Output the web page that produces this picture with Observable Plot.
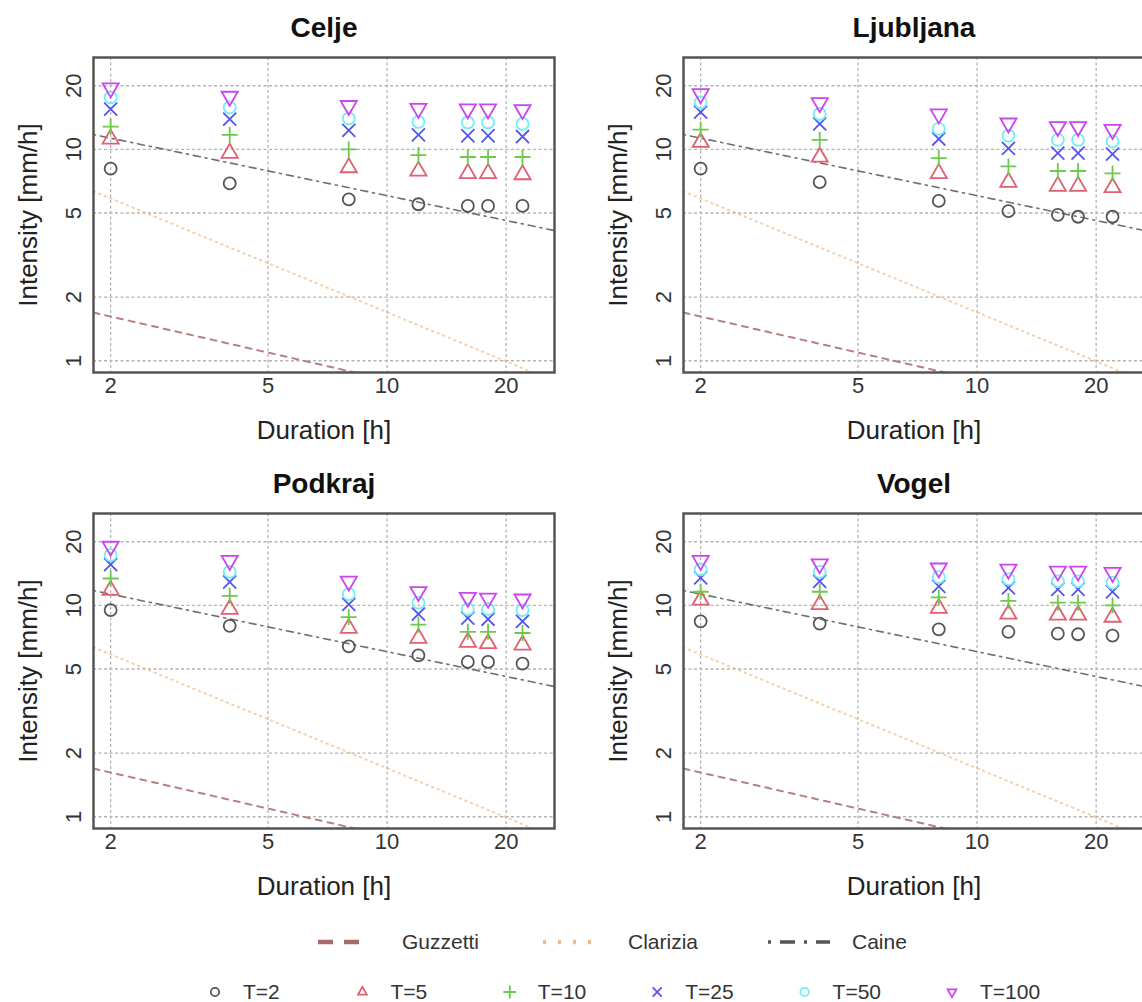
<!DOCTYPE html>
<html><head><meta charset="utf-8">
<script src="https://cdn.jsdelivr.net/npm/d3@7"></script>
<script src="https://cdn.jsdelivr.net/npm/@observablehq/plot@0.6"></script>
<style>
body{margin:0;background:#fff;font-family:"Liberation Sans",Arial,sans-serif;}
#fig{position:relative;width:1142px;height:1002px;overflow:hidden;background:#fff;}
.panel{position:absolute;}
#legend{position:absolute;left:0;top:912px;}
</style></head><body><div id="fig"></div>
<script>
// ---- data ----
const durations = [2, 4, 8, 12, 16, 18, 22];            // hours
const periods = ["T=2", "T=5", "T=10", "T=25", "T=50", "T=100"];
const sites = ["Celje", "Ljubljana", "Podkraj", "Vogel"];
// intensities [mm/h], one row per return period (T=2 ... T=100), one column per duration
const celje = [
  [8.1, 6.9, 5.8, 5.5, 5.4, 5.4, 5.4],
  [11.2, 9.6, 8.2, 7.9, 7.7, 7.7, 7.6],
  [12.8, 11.7, 10.0, 9.4, 9.2, 9.2, 9.2],
  [15.5, 13.9, 12.3, 11.7, 11.6, 11.6, 11.5],
  [17.6, 15.8, 14.0, 13.5, 13.4, 13.4, 13.2],
  [19.5, 17.8, 16.1, 15.6, 15.5, 15.5, 15.4]
];
const ljubljana = [
  [8.1, 7.0, 5.7, 5.1, 4.9, 4.8, 4.8],
  [10.8, 9.2, 7.7, 7.0, 6.7, 6.7, 6.6],
  [12.4, 11.1, 9.1, 8.3, 7.9, 7.9, 7.7],
  [15.0, 13.2, 11.2, 10.1, 9.6, 9.6, 9.5],
  [16.7, 14.7, 12.5, 11.6, 11.1, 11.1, 10.9],
  [18.3, 16.6, 14.7, 13.3, 12.8, 12.8, 12.4]
];
const podkraj = [
  [9.5, 8.0, 6.4, 5.8, 5.4, 5.4, 5.3],
  [11.8, 9.6, 7.8, 7.0, 6.7, 6.6, 6.5],
  [13.4, 11.1, 8.8, 8.1, 7.5, 7.5, 7.4],
  [15.6, 12.9, 10.1, 9.1, 8.7, 8.6, 8.4],
  [17.3, 14.4, 11.3, 10.3, 9.6, 9.6, 9.5],
  [19.0, 16.3, 13.0, 11.6, 10.9, 10.8, 10.7]
];
const vogel = [
  [8.4, 8.2, 7.7, 7.5, 7.35, 7.3, 7.2],
  [10.6, 10.1, 9.7, 9.1, 9.0, 9.0, 8.8],
  [11.6, 11.6, 10.9, 10.5, 10.3, 10.3, 10.0],
  [13.5, 13.0, 12.3, 12.1, 11.9, 11.9, 11.6],
  [14.8, 14.4, 13.6, 13.3, 13.0, 13.0, 12.8],
  [16.3, 15.7, 15.0, 14.8, 14.5, 14.5, 14.3]
];
// threshold lines: endpoints (duration, intensity) read at the plot edges
const thresholdD = [1.81, 26.5];
const guzzetti = [1.69, 0.535];
const clarizia = [6.33, 0.80];
const caine = [11.75, 4.13];
const thresholdNames = ["Guzzetti", "Clarizia", "Caine"];
// tick labels
const xTicks = [2, 5, 10, 20];
const yTicks = [1, 2, 5, 10, 20];

// ---- styles ----
const pColors = ["#555555", "#e06070", "#6cc94a", "#5454ee", "#70eef4", "#cc44ee"];
const pSymbols = ["circle", "triangle", "plus", "times", "circle", "triangle"];
const pRotate = [0, 0, 0, 0, 0, 180];
const lineStyles = [
  {stroke: "#b07272", strokeWidth: 2, strokeDasharray: "6,6", strokeOpacity: 0.9},
  {stroke: "#f0b070", strokeWidth: 2, strokeDasharray: "1.5,4.5", strokeOpacity: 0.6},
  {stroke: "#555555", strokeWidth: 1.6, strokeDasharray: "2,5,7,5", strokeOpacity: 0.85}
];
const font = "Liberation Sans, Arial, Helvetica, sans-serif";

function panel(name, rows) {
  const pts = [];
  rows.forEach((vals, ti) => vals.forEach((v, di) => pts.push({D: durations[di], I: v, ti})));
  const lineData = [guzzetti, clarizia, caine].map(arr => arr.map((v, i) => ({D: thresholdD[i], I: v})));
  const gridStyle = {stroke: "#b4b4b4", strokeOpacity: 1, strokeWidth: 1.3, strokeDasharray: "3,2.5"};
  return Plot.plot({
    width: 590, height: 456,
    marginLeft: 93, marginTop: 57, marginRight: 36, marginBottom: 84,
    x: {type: "log", domain: [1.81, 26.5]},
    y: {type: "log", domain: [0.88, 27.2]},
    style: {fontFamily: font, background: "white", color: "#333", overflow: "visible"},
    marks: [
      Plot.gridX(xTicks, gridStyle),
      Plot.gridY(yTicks, gridStyle),
      ...lineData.map((ld, k) => Plot.line(ld, {x: "D", y: "I", clip: true, ...lineStyles[k]})),
      ...periods.map((p, ti) => Plot.dot(pts.filter(d => d.ti === ti), {
        x: "D", y: "I", symbol: pSymbols[ti], stroke: pColors[ti], fill: "none",
        r: ti === 2 ? 5.2 : 6, strokeWidth: 1.8, rotate: pRotate[ti]
      })),
      Plot.frame({stroke: "#555", strokeWidth: 2.5}),
      Plot.axisX(xTicks, {tickSize: 0, tickPadding: 5, fontSize: 22, tickFormat: d => String(d), label: null}),
      Plot.axisY(yTicks, {tickSize: 0, tickRotate: -90, tickPadding: 13, fontSize: 22, tickFormat: d => String(d), label: null}),
      Plot.text([name], {text: d => d, frameAnchor: "top", lineAnchor: "middle", dy: -29, fontSize: 28, fontWeight: "bold", fill: "#111"}),
      Plot.text(["Duration [h]"], {text: d => d, frameAnchor: "bottom", lineAnchor: "middle", dy: 58, fontSize: 26, fill: "#222"}),
      Plot.text(["Intensity [mm/h]"], {text: d => d, frameAnchor: "left", textAnchor: "middle", lineAnchor: "middle", dx: -65, rotate: -90, fontSize: 26, fill: "#222"})
    ]
  });
}

const fig = document.getElementById("fig");
const siteData = [celje, ljubljana, podkraj, vogel];
const pos = [[0, 0], [590, 0], [0, 456], [590, 456]];
sites.forEach((s, i) => {
  const el = panel(s, siteData[i]);
  el.classList.add("panel");
  el.style.left = pos[i][0] + "px";
  el.style.top = pos[i][1] + "px";
  fig.appendChild(el);
});

// ---- legend ----
const leg = d3.select(fig).append("svg").attr("id", "legend").attr("width", 1142).attr("height", 90)
  .style("font-family", font);
// row 1: threshold lines
const row1 = [{x0: 318, x1: 364, tx: 402}, {x0: 543, x1: 592, tx: 628}, {x0: 768, x1: 830, tx: 852}];
const legLine = [
  {stroke: "#a86a6a", w: 4.5, dash: "15,11"},
  {stroke: "#ecc084", w: 4.5, dash: "3,12"},
  {stroke: "#555", w: 3.5, dash: "3,9,15,9"}
];
thresholdNames.forEach((n, k) => {
  leg.append("line").attr("x1", row1[k].x0).attr("x2", row1[k].x1).attr("y1", 30).attr("y2", 30)
    .attr("stroke", legLine[k].stroke).attr("stroke-width", legLine[k].w).attr("stroke-dasharray", legLine[k].dash);
  leg.append("text").attr("x", row1[k].tx).attr("y", 30).attr("dy", "0.35em")
    .attr("font-size", 21).attr("fill", "#333").text(n);
});
// row 2: return periods
const symMap = {circle: d3.symbolCircle, triangle: d3.symbolTriangle2, plus: d3.symbolPlus, times: d3.symbolTimes};
periods.forEach((p, ti) => {
  const cx = 215 + ti * 147.4;
  leg.append("path").attr("d", d3.symbol(symMap[pSymbols[ti]], Math.PI * 4.2 * 4.2)())
    .attr("transform", `translate(${cx},80) rotate(${pRotate[ti]})`)
    .attr("fill", "none").attr("stroke", pColors[ti]).attr("stroke-width", 1.8);
  leg.append("text").attr("x", cx + 28).attr("y", 80).attr("dy", "0.35em")
    .attr("font-size", 21).attr("fill", "#333").text(p);
});
</script></body></html>
